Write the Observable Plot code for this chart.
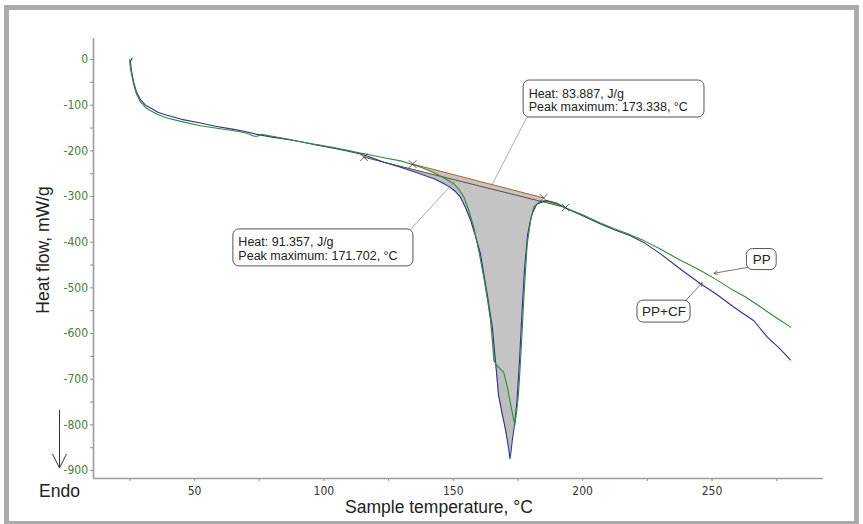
<!DOCTYPE html>
<html><head><meta charset="utf-8">
<script src="https://cdn.jsdelivr.net/npm/d3@7"></script>
<script src="https://cdn.jsdelivr.net/npm/@observablehq/plot@0.6"></script>
<style>
body{margin:0;background:#fff;}
#wrap{position:relative;width:863px;height:524px;overflow:hidden;font-family:"Liberation Sans",Arial,sans-serif;color:#222;}
#frame{position:absolute;left:4px;top:5px;width:855px;height:521px;border:5px solid #ababab;box-sizing:border-box;}
#chart{position:absolute;left:0;top:0;}
.t{position:absolute;font-size:17.5px;white-space:nowrap;line-height:1;}
</style></head>
<body><div id="wrap"><div id="frame"></div><div id="chart"></div>
<div class="t" style="left:44px;top:250px;transform:translate(-50%,-50%) rotate(-90deg);">Heat flow, mW/g</div>
<div class="t" style="left:439px;top:499px;transform:translateX(-50%);">Sample temperature, °C</div>
<div class="t" style="left:39px;top:483px;">Endo</div>
<svg style="position:absolute;left:0;top:0" width="863" height="524"><g stroke="#333" stroke-width="1" fill="none"><line x1="59.5" y1="410" x2="59.5" y2="468"/><polyline points="52.5,454 59.5,468 66.5,454"/></g></svg>
</div>
<script>
// PP+CF (blue) curve
const ppcfT = [25.9,25.2,25.6,26.5,27.5,29.1,31,33,36,39.4,45,52.3,58,65.2,70,74.2,80,86,91,97,103.8,109,114.1,118,123.2,129.6,136,142.5,145.7,148.9,151,152.8,154.8,156.7,158.6,160.5,161.8,163.1,164.1,165.1,166.3,167.5,168.9,170.0,170.9,171.5,171.9,172.3,172.8,173.7,174.6,175.6,176.6,177.5,178.7,180.2,182.2,185.7,190,194,200,206.9,212,218.5,224,230,238.5,245.6,252,258.4,262,266.2,271.4,276,280.4];
const ppcfHF = [3,-4,-25,-50,-70,-88,-100,-106,-116,-122,-131,-139,-146,-153,-158,-164,-170,-175,-180,-187,-194,-200,-207,-214,-225,-236,-248,-261,-270,-280,-290,-302,-325,-352,-387,-425,-470,-513,-550,-586,-659,-735,-776,-805,-834,-855,-874,-860,-834,-798,-750,-659,-550,-462,-385,-342,-317,-309,-316,-327,-342,-360,-372,-386,-402,-425,-462,-491,-515,-542,-556,-572,-608,-632,-658];
// PP (green) curve
const ppT = [24.9,25.2,26.5,27.5,29.1,31,33,36,39.4,45,52.3,58,65.2,70,73,74.2,76,80,86,91,97,103.8,109,114.1,118,123.2,129.6,134.3,138,142.5,146,150.2,152.3,154.1,156,157.9,159.9,161.8,163.2,164.4,165.1,165.7,166.6,167.6,169.5,170.9,172.1,173.4,173.8,174.7,175.3,176.0,176.7,177.5,178.6,179.9,181.1,183.7,186.3,190,194,200,206.9,212,218.5,223.5,230,238,245.6,252,258.4,263,268.8,274,280.4];
const ppHF = [0,-20,-55,-75,-93,-105,-112,-121,-128,-136,-145,-150,-156,-161,-168,-168,-164,-168,-174,-180,-186,-193,-199,-205,-209,-215,-222,-230,-237,-248,-258,-272,-285,-301,-330,-367,-420,-477,-525,-571,-615,-659,-668,-674,-685,-717,-753,-790,-800,-761,-725,-659,-586,-499,-404,-352,-323,-310,-309,-314,-326,-340,-358,-370,-384,-396,-415,-440,-462,-483,-506,-520,-542,-562,-586];
// integration baselines (start, end)
const ppcfBaseT = [115.5, 193.4], ppcfBaseHF = [-214, -324];
const ppBaseT = [134.3, 184.9], ppBaseHF = [-229, -303];
// ticks
const yMajor = [-900,-800,-700,-600,-500,-400,-300,-200,-100,0];
const yMinor = [-850,-750,-650,-550,-450,-350,-250,-150,-50];
const xMajor = [50,100,150,200,250];
const xMinor = [25,75,125,175,225,275];
// annotation texts
const heatTexts = ["Heat: 91.357, J/g", "Heat: 83.887, J/g"];
const peakTexts = ["Peak maximum: 171.702, °C", "Peak maximum: 173.338, °C"];
const seriesNames = ["PP+CF", "PP"];

const blue = "#2f2f96", green = "#2f8a36";
const toRows = (T, H) => T.map((t, i) => ({t, hf: H[i]}));
const ppcf = toRows(ppcfT, ppcfHF), pp = toRows(ppT, ppHF);
function fillRows(rows, bT, bH) {
  const base = d3.scaleLinear().domain(bT).range(bH);
  const inside = rows.filter(d => d.t >= bT[0] && d.t <= bT[1]);
  return [{t: bT[0], hf: bH[0], base: bH[0]}, ...inside.map(d => ({...d, base: base(d.t)})), {t: bT[1], hf: bH[1], base: bH[1]}];
}
const ppcfFill = fillRows(ppcf, ppcfBaseT, ppcfBaseHF);
const ppFill = fillRows(pp, ppBaseT, ppBaseHF);
const ends = [...toRows(ppcfBaseT, ppcfBaseHF), ...toRows(ppBaseT, ppBaseHF)];

// annotation layout (data coords)
const boxes = [
  {x1: 65.0, x2: 134.6, y1: -372, y2: -453, heat: heatTexts[0], peak: peakTexts[0], lx1: 133.5, ly1: -372, lx2: 152.0, ly2: -258},
  {x1: 177.2, x2: 247.1, y1: -46, y2: -127, heat: heatTexts[1], peak: peakTexts[1], lx1: 178.4, ly1: -127, lx2: 164.8, ly2: -276}
];
const tags = [
  {x1: 221.2, x2: 241.7, y1: -528, y2: -576, text: seriesNames[0], ax1: 239.8, ay1: -528, ax2: 246.2, ay2: -489},
  {x1: 263.5, x2: 275.0, y1: -415, y2: -461, text: seriesNames[1], ax1: 264.0, ay1: -455, ax2: 250.8, ay2: -468}
];

const narrow = "'Liberation Sans Narrow','Arial Narrow','DejaVu Sans Condensed',sans-serif";
const chart = Plot.plot({
  width: 863, height: 524,
  marginLeft: 93, marginRight: 40, marginTop: 38, marginBottom: 46,
  x: {domain: [10.94, 293.1]},
  y: {domain: [-917.4, 46]},
  style: {background: "transparent", fontFamily: "'Liberation Sans',Arial,sans-serif", overflow: "visible"},
  marks: [
    Plot.axisY({ticks: [...yMajor, ...yMinor], tickFormat: d => yMajor.includes(d) ? String(d) : "", tickSize: 3, tickPadding: 2.5, fontSize: 12, fontFamily: narrow, fill: "#4a7a3c", stroke: "#8a8a8a", label: null}),
    Plot.axisX({ticks: [...xMajor, ...xMinor], tickFormat: d => xMajor.includes(d) ? String(d) : "", tickSize: 3, tickPadding: 5, fontSize: 12, fontFamily: narrow, fill: "#333", stroke: "#8a8a8a", label: null}),
    Plot.ruleX([10.94], {stroke: "#9c9c9c", strokeWidth: 1.6}),
    Plot.ruleY([-917.4], {stroke: "#9c9c9c", strokeWidth: 1.6}),
    Plot.areaY(ppcfFill, {x: "t", y1: "base", y2: "hf", fill: "#bdbdbd", curve: "linear"}),
    Plot.areaY(ppFill, {x: "t", y1: "base", y2: "hf", fill: "#c4c4c4", curve: "linear"}),
    Plot.line(toRows(ppcfBaseT, ppcfBaseHF), {x: "t", y: "hf", stroke: "#6b4a3a", strokeWidth: 1}),
    Plot.line(toRows(ppBaseT, ppBaseHF), {x: "t", y: "hf", stroke: "#b8642c", strokeWidth: 1}),
    Plot.line(ppcf, {x: "t", y: "hf", stroke: blue, strokeWidth: 1.1}),
    Plot.line(pp, {x: "t", y: "hf", stroke: green, strokeWidth: 1.1}),
    Plot.dot(ends, {x: "t", y: "hf", symbol: "times", r: 3.5, stroke: "#333", strokeWidth: 0.8}),
    Plot.link(boxes, {x1: "lx1", y1: "ly1", x2: "lx2", y2: "ly2", stroke: "#999", strokeWidth: 0.8}),
    Plot.rect(boxes, {x1: "x1", x2: "x2", y1: "y1", y2: "y2", fill: "white", stroke: "#555", strokeWidth: 1, rx: 6}),
    Plot.text(boxes, {x: "x1", y: "y1", text: "heat", textAnchor: "start", lineAnchor: "bottom", dx: 5, dy: 17, fontSize: 12.5, fill: "#222"}),
    Plot.text(boxes, {x: "x1", y: "y1", text: "peak", textAnchor: "start", lineAnchor: "bottom", dx: 5, dy: 30.5, fontSize: 12.5, fill: "#222"}),
    Plot.arrow(tags, {x1: "ax1", y1: "ay1", x2: "ax2", y2: "ay2", stroke: "#555", strokeWidth: 0.8, headLength: 7, bend: 0}),
    Plot.rect(tags, {x1: "x1", x2: "x2", y1: "y1", y2: "y2", fill: "white", stroke: "#555", strokeWidth: 1, rx: 6}),
    Plot.text(tags, {x: d => (d.x1 + d.x2) / 2, y: d => (d.y1 + d.y2) / 2, text: "text", fontSize: 13.5, fill: "#222"})
  ]
});
document.getElementById("chart").appendChild(chart);
</script></body></html>
